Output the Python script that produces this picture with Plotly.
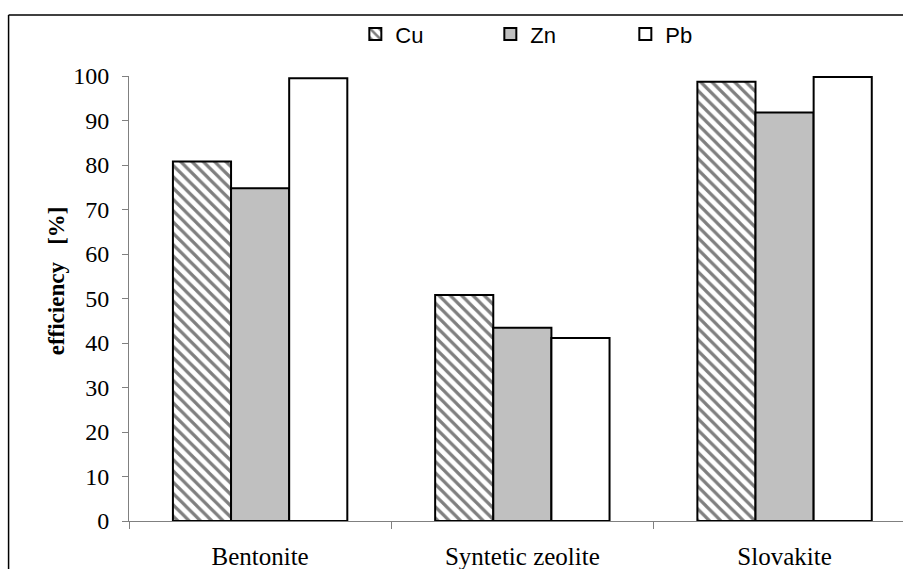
import plotly.graph_objects as go

# Sorbent categories and removal efficiency of each metal [%]
categories = ["Bentonite", "Syntetic zeolite", "Slovakite"]
cu = [80.8, 50.8, 98.7]
zn = [74.8, 43.4, 91.8]
pb = [99.5, 41.1, 99.8]
y_ticks = list(range(0, 101, 10))

W, H = 903, 569
ML, MR, MT, MB = 128.5, 0, 76, 47.5

serif = "Liberation Serif"
sans = "Liberation Sans"
outline = dict(color="black", width=2)

fig = go.Figure()
fig.add_trace(go.Bar(
    name="Cu", x=categories, y=cu,
    marker=dict(color="white", line=outline,
                pattern=dict(shape="\\", fgcolor="black", bgcolor="white",
                             size=8, solidity=0.4)),
))
fig.add_trace(go.Bar(
    name="Zn", x=categories, y=zn,
    marker=dict(color="#c0c0c0", line=outline),
))
fig.add_trace(go.Bar(
    name="Pb", x=categories, y=pb,
    marker=dict(color="white", line=outline),
))

pw = W - ML - MR
ph = H - MT - MB

def px_x(p):
    return (p - ML) / pw

def px_y(p):
    return (H - MB - p) / ph

# outer chart frame (left and top edges)
frame = dict(color="black", width=1.5)
shapes = [
    dict(type="line", xref="paper", yref="paper",
         x0=px_x(8), x1=px_x(8), y0=px_y(15), y1=px_y(H + 5), line=frame),
    dict(type="line", xref="paper", yref="paper",
         x0=px_x(8), x1=px_x(W + 5), y0=px_y(15), y1=px_y(15), line=frame),
]

# rotated y-axis caption
annotations = [
    dict(text="<b>efficiency\u00a0\u00a0\u00a0[%]</b>", textangle=-90,
         xref="paper", yref="paper", x=px_x(56), y=px_y(281),
         xanchor="center", yanchor="middle", showarrow=False,
         font=dict(family=serif, size=23, color="black")),
]

fig.update_layout(
    width=W, height=H,
    margin=dict(l=ML, r=MR, t=MT, b=MB, pad=0),
    paper_bgcolor="white", plot_bgcolor="white",
    font=dict(family=serif, color="black"),
    barmode="group", bargap=0.335, bargroupgap=0,
    showlegend=True,
    legend=dict(orientation="h", x=0.3935, xref="container", xanchor="left",
                y=0.94, yref="container", yanchor="middle",
                font=dict(family=sans, size=22, color="black"),
                entrywidth=90, entrywidthmode="pixels",
                bgcolor="rgba(0,0,0,0)"),
    shapes=shapes,
    annotations=annotations,
    xaxis=dict(
        type="category", range=[-0.5, -0.5 + pw / 262.4],
        showline=True, linecolor="#808080", linewidth=1,
        ticks="outside", tickson="boundaries", ticklen=7,
        tickcolor="#808080", tickwidth=1,
        showgrid=False, zeroline=False,
        ticklabelstandoff=13,
        tickfont=dict(family=serif, size=25, color="black"),
    ),
    yaxis=dict(
        range=[0, 100], tickvals=y_ticks,
        showline=True, linecolor="#808080", linewidth=1,
        ticks="outside", ticklen=6, tickcolor="#808080", tickwidth=1,
        showgrid=False, zeroline=False,
        ticklabelstandoff=8,
        tickfont=dict(family=serif, size=24, color="black"),
    ),
)

fig.write_html("out.html")
